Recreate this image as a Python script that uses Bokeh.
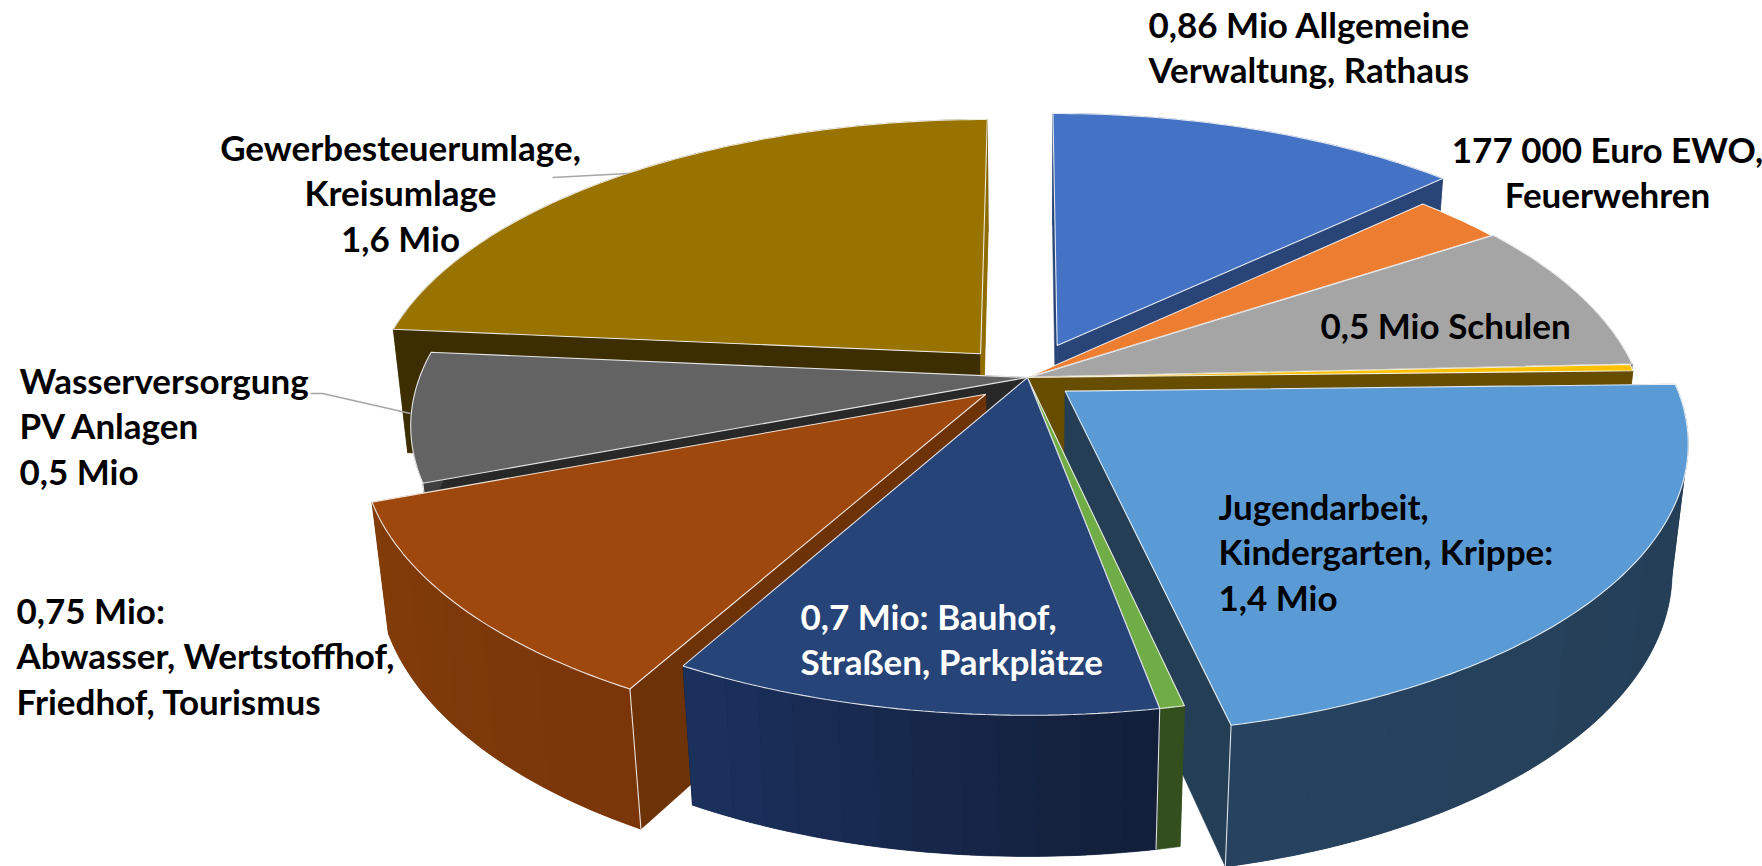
from bokeh.plotting import figure
from bokeh.models import Range1d
from bokeh.core.properties import value
from bokeh.embed import file_html
from bokeh.resources import INLINE
import numpy as np

# ---------- data (Mio Euro, implied by slice angles) ----------
names = ["Verwaltung", "Feuerwehren", "Schulen", "Sonstiges", "Kinder", "Gruen",
         "Bauhof", "Abwasser", "Wasser", "Umlagen"]
values = [0.86, 0.185, 0.57, 0.024, 1.46, 0.037, 0.728, 0.747, 0.48, 1.568]
explode = [0.126, 0.0, 0.004, 0.0, 0.078, 0.0, 0.0, 0.09, 0.0, 0.116]
top_colors = ["#4472C4", "#ED7D31", "#A5A5A5", "#FFC000", "#5B9BD5", "#70AD47",
              "#264478", "#9E480E", "#636363", "#997300"]
start_wall = ["#294476", "#8E4B1D", "#636363", "#664D00", "#243E55", "#344F1E",
              "#16294A", "#6E3207", "#282828", "#3D2E00"]
end_wall = ["#294476", "#8E4B1D", "#636363", "#664D00", "#243E55", "#344F1E",
            "#16294A", "#6E3207", "#282828", "#8F6C00"]
rim_from = ["#294476", "#8E4B1D", "#636363", "#664D00", "#243E55", "#344F1E",
            "#121F3A", "#7A3609", "#3F3F3F", "#3D2E00"]
rim_to = ["#294476", "#8E4B1D", "#636363", "#664D00", "#27425F", "#344F1E",
          "#1C305C", "#823C0A", "#3F3F3F", "#3D2E00"]
walls_shown = [True, False, True, True, True, True, True, True, True, True]
edge_at_start = [False, False, False, False, False, False, True, True, True, False]
edge_at_end = [False, False, False, False, True, False, False, False, False, False]
labels = [
    (["0,86 Mio Allgemeine", "Verwaltung, Rathaus"], 1148, "left", "#000000", 23),
    (["177 000 Euro EWO,", "Feuerwehren"], 1607, "center", "#000000", 148),
    (["0,5 Mio Schulen"], 1320, "left", "#000000", 324),
    (["Jugendarbeit,", "Kindergarten, Krippe:", "1,4 Mio"], 1218, "left", "#000000", 505),
    (["0,7 Mio: Bauhof,", "Straßen, Parkplätze"], 800, "left", "#FFFFFF", 615),
    (["0,75 Mio:", "Abwasser, Wertstoffhof,", "Friedhof, Tourismus"], 16, "left", "#000000", 609),
    (["Wasserversorgung", "PV Anlagen", "0,5 Mio"], 19, "left", "#000000", 379),
    (["Gewerbesteuerumlage,", "Kreisumlage", "1,6 Mio"], 400, "center", "#000000", 146),
]

# ---------- projection of the 3D pie ----------
CX, CY = 1027.0, 377.0
A, B, C = 608.0, 281.0, 129.0
P, Q = 0.168, 0.024


def project(X, Y, d):
    w = 1 + P * Y + Q * d
    return CX + A * X / w, CY + (-B * Y + C * d) / w


def mix(c1, c2, t):
    a = [int(c1[i:i + 2], 16) for i in (1, 3, 5)]
    b = [int(c2[i:i + 2], 16) for i in (1, 3, 5)]
    return "#%02x%02x%02x" % tuple(int(round(x + (y - x) * t)) for x, y in zip(a, b))


p = figure(width=1762, height=866, x_range=Range1d(0, 1762), y_range=Range1d(866, 0),
           output_backend="svg", toolbar_location=None, min_border=0)
p.axis.visible = False
p.grid.visible = False
p.outline_line_color = None

angles = np.cumsum([0] + values) / sum(values) * 2 * np.pi
EDGE = dict(line_color="#FFFFFF", line_alpha=0.85, line_width=1.1)


def draw_slice(i):
    t0, t1 = angles[i], angles[i + 1]
    mid = (t0 + t1) / 2
    ox, oy = explode[i] * np.sin(mid), explode[i] * np.cos(mid)
    th = np.linspace(t0, t1, max(4, int((t1 - t0) * 60)))
    xs, ys = ox + np.sin(th), oy + np.cos(th)
    if walls_shown[i]:
        x0, y0 = project(xs, ys, 0)
        x1, y1 = project(xs, ys, 1)
        ax0, ay0 = project(ox, oy, 0)
        ax1, ay1 = project(ox, oy, 1)

        def radial(e, col):
            p.patch([ax0, x0[e], x1[e], ax1], [ay0, y0[e], y1[e], ay1], fill_color=col, line_color=col, line_width=0.5)

        radial(0, start_wall[i])
        radial(-1, end_wall[i])
        # outer wall: a base in the middle shade, then narrow bands for the shading
        base = mix(rim_from[i], rim_to[i], 0.5)
        p.patch(list(x0) + list(x1[::-1]), list(y0) + list(y1[::-1]), fill_color=base, line_color=base, line_width=0.6)
        if rim_from[i] != rim_to[i]:
            n = 12
            idx = np.linspace(0, len(th) - 1, n + 1).astype(int)
            for k in range(n):
                a, b = idx[k], idx[k + 1] + 1
                col = mix(rim_from[i], rim_to[i], k / (n - 1))
                p.patch(list(x0[a:b]) + list(x1[a:b][::-1]), list(y0[a:b]) + list(y1[a:b][::-1]),
                        fill_color=col, line_color=None)
        if end_wall[i] != start_wall[i]:
            radial(-1, end_wall[i])
        if edge_at_start[i]:
            p.line([x0[0], x1[0]], [y0[0], y1[0]], **EDGE)
        if edge_at_end[i]:
            p.line([x0[-1], x1[-1]], [y0[-1], y1[-1]], **EDGE)
    # top face
    tx, ty = project(np.r_[ox, xs], np.r_[oy, ys], 0)
    p.patch(list(tx), list(ty), fill_color=top_colors[i], **EDGE)


for i in [9, 0, 1, 2, 3, 8, 7, 4, 5, 6]:
    draw_slice(i)

# leader lines
p.line([552, 628], [177, 173], line_color="#A6A6A6", line_width=1.5)
p.line([310, 322, 410], [393, 393, 413], line_color="#A6A6A6", line_width=1.5)

# labels
LH = 45.5
for lines, x, align, col, y0 in labels:
    for n, s in enumerate(lines):
        p.text([x], [y0 + n * LH], text=[s], text_font=value("Lato"), text_font_style="bold",
               text_font_size="35px", text_color=col, text_align=align, text_baseline="middle")

open("out.html", "w").write(file_html(p, INLINE))
